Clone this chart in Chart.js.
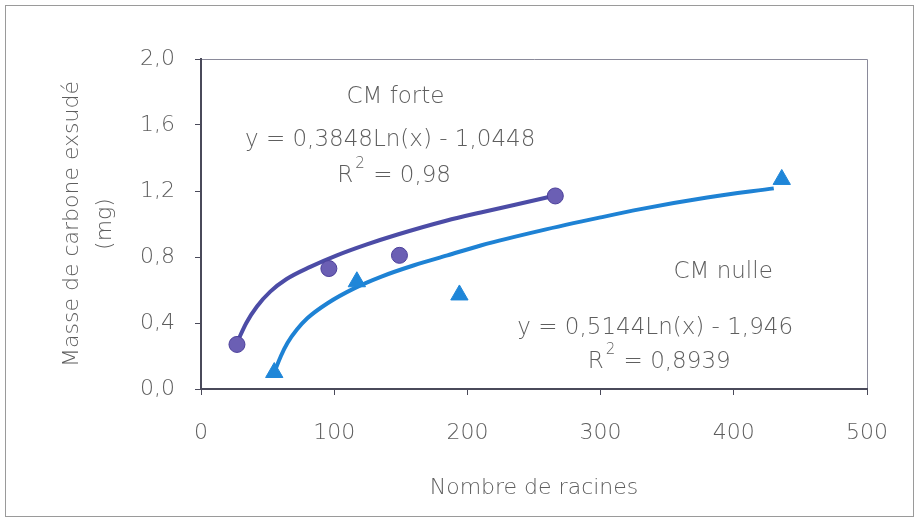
<!DOCTYPE html>
<html>
<head>
<meta charset="utf-8">
<script src="https://cdn.jsdelivr.net/npm/chart.js@4.4.0/dist/chart.umd.min.js"></script>
<style>
  html, body { margin: 0; padding: 0; background: #fff; }
  #wrap { width: 920px; height: 519px; }
</style>
</head>
<body>
<div id="wrap"><canvas id="exsudat" width="920" height="519"></canvas></div>
<script>
// measured points
const forteX = [27, 96, 149, 266]
const forteY = [0.27, 0.73, 0.81, 1.17]
const nulleX = [55, 117, 194, 436]
const nulleY = [0.10, 0.65, 0.57, 1.27]

// trend curves
const forteLineX = [27, 34, 42, 52, 64, 82, 102, 124, 147, 184, 210, 235, 262]
const forteLineY = [0.28, 0.40, 0.50, 0.59, 0.665, 0.74, 0.81, 0.875, 0.935, 1.02, 1.07, 1.115, 1.165]
const nulleLineX = [55, 60, 65, 72, 80, 95, 115, 135, 160, 185, 210, 255, 300, 330, 380, 430]
const nulleLineY = [0.10, 0.20, 0.28, 0.36, 0.43, 0.52, 0.61, 0.68, 0.75, 0.81, 0.87, 0.96, 1.04, 1.09, 1.16, 1.216]

const xTicks = [0, 100, 200, 300, 400, 500]
const yTicks = [0.0, 0.4, 0.8, 1.2, 1.6, 2.0]

const greyText = '#5e5e5e'
const font = 'DejaVu Sans'

const toPoints = (xs, ys) => xs.map((x, i) => ({ x: x, y: ys[i] }))
const frac = v => v.toFixed(1).replace('.', ',')

// text labels placed in data units
const notes = [
  { x: 146, y: 1.77, text: 'CM forte' },
  { x: 142, y: 1.51, text: 'y = 0,3848Ln(x) - 1,0448' },
  { x: 145, y: 1.29, r2: '0,98' },
  { x: 392, y: 0.71, text: 'CM nulle' },
  { x: 341, y: 0.37, text: 'y = 0,5144Ln(x) - 1,946' },
  { x: 344, y: 0.165, r2: '0,8939' }
]

const notesPlugin = {
  id: 'notes',
  beforeDraw (chart) {
    const ctx = chart.ctx
    ctx.save()
    ctx.strokeStyle = '#9a9a9a'
    ctx.lineWidth = 1
    ctx.strokeRect(5.5, 5.5, 908, 511)
    // top and right edges of the plot box
    const a = chart.chartArea
    ctx.strokeStyle = '#8a8a9a'
    ctx.beginPath()
    ctx.moveTo(a.left, a.top + 0.5)
    ctx.lineTo(a.right + 0.5, a.top + 0.5)
    ctx.lineTo(a.right + 0.5, a.bottom)
    ctx.stroke()
    ctx.restore()
  },
  afterDatasetsDraw (chart) {
    const ctx = chart.ctx
    const xs = chart.scales.x
    const ys = chart.scales.y
    const big = '300 23px "' + font + '"'
    const small = '300 15px "' + font + '"'
    ctx.save()
    ctx.fillStyle = greyText
    ctx.textBaseline = 'middle'
    notes.forEach(n => {
      const px = xs.getPixelForValue(n.x)
      const py = ys.getPixelForValue(n.y)
      if (n.text) {
        ctx.font = big
        ctx.textAlign = 'center'
        ctx.fillText(n.text, px, py)
      } else {
        const rest = ' = ' + n.r2
        ctx.font = small
        const wSup = ctx.measureText('2').width + 3
        ctx.font = big
        const wR = ctx.measureText('R').width
        const wRest = ctx.measureText(rest).width
        const left = px - (wR + wSup + wRest) / 2
        ctx.textAlign = 'left'
        ctx.fillText('R', left, py)
        ctx.font = small
        ctx.fillText('2', left + wR + 2, py - 12)
        ctx.font = big
        ctx.fillText(rest, left + wR + wSup, py)
      }
    })
    ctx.restore()
  }
}

const ctx = document.getElementById('exsudat')
new Chart(ctx, {
  type: 'scatter',
  data: {
    datasets: [
      {
        label: 'CM forte',
        data: toPoints(forteX, forteY),
        pointStyle: 'circle',
        pointRadius: 8,
        backgroundColor: '#6b5fb4',
        borderColor: '#4b3f9a',
        borderWidth: 1,
        order: 0
      },
      {
        label: 'CM nulle',
        data: toPoints(nulleX, nulleY),
        pointStyle: 'triangle',
        pointRadius: 10,
        backgroundColor: '#1f86d8',
        borderColor: '#1f86d8',
        borderWidth: 1,
        order: 0
      },
      {
        type: 'line',
        label: 'tendance forte',
        data: toPoints(forteLineX, forteLineY),
        borderColor: '#4c4ca6',
        borderWidth: 4,
        pointRadius: 0,
        cubicInterpolationMode: 'monotone',
        fill: false,
        order: 1
      },
      {
        type: 'line',
        label: 'tendance nulle',
        data: toPoints(nulleLineX, nulleLineY),
        borderColor: '#1e82d4',
        borderWidth: 4,
        pointRadius: 0,
        cubicInterpolationMode: 'monotone',
        fill: false,
        order: 1
      }
    ]
  },
  options: {
    responsive: false,
    animation: false,
    layout: { padding: { top: 59, right: 53, left: 0, bottom: 0 } },
    plugins: {
      legend: { display: false },
      tooltip: { enabled: false }
    },
    scales: {
      x: {
        type: 'linear',
        min: 0,
        max: 500,
        afterFit: s => { s.height = 130 },
        afterBuildTicks: s => { s.ticks = xTicks.map(v => ({ value: v })) },
        border: { color: '#4a4a5a', width: 2 },
        grid: { drawOnChartArea: false, drawTicks: true, tickLength: 6, color: '#4a4a5a' },
        ticks: {
          padding: 25,
          color: greyText,
          font: { family: font, size: 22, weight: '300' }
        },
        title: {
          display: true,
          text: 'Nombre de racines',
          color: greyText,
          font: { family: font, size: 22, weight: '300', lineHeight: 1.3 },
          padding: { top: 0, bottom: 16 }
        }
      },
      y: {
        min: 0,
        max: 2,
        afterFit: s => { s.width = 201 },
        afterBuildTicks: s => { s.ticks = yTicks.map(v => ({ value: v })) },
        border: { color: '#4a4a5a', width: 2 },
        grid: { drawOnChartArea: false, drawTicks: true, tickLength: 6, color: '#4a4a5a' },
        ticks: {
          padding: 20,
          color: greyText,
          font: { family: font, size: 22, weight: '300' },
          callback: v => frac(v)
        },
        title: {
          display: true,
          text: ['Masse de carbone exsudé', '(mg)'],
          color: greyText,
          font: { family: font, size: 22, weight: '300', lineHeight: 1.5 },
          padding: { top: 56, bottom: 0 }
        }
      }
    }
  },
  plugins: [notesPlugin]
})
</script>
</body>
</html>
